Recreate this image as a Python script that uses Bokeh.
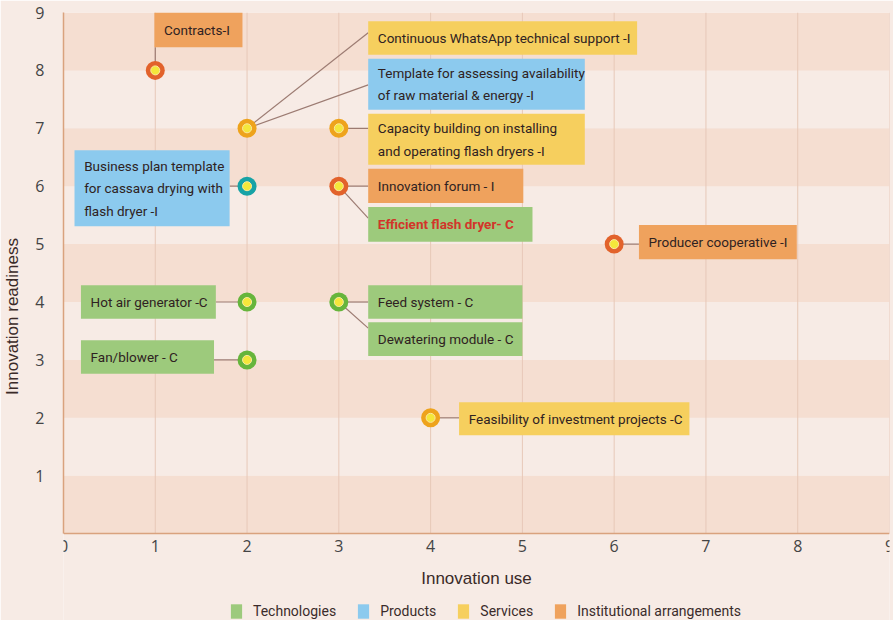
from bokeh.plotting import figure
from bokeh.models import ColumnDataSource, FixedTicker, Legend, LegendItem
from bokeh.core.properties import value
from bokeh.embed import file_html
from bokeh.resources import INLINE

# ---------------- data ----------------
innovations = [
    "Contracts-I",
    "Continuous WhatsApp technical support -I",
    "Template for assessing availability\nof raw material & energy -I",
    "Capacity building on installing\nand operating flash dryers -I",
    "Innovation forum - I",
    "Efficient flash dryer- C",
    "Business plan template\nfor cassava drying with\nflash dryer -I",
    "Producer cooperative -I",
    "Hot air generator -C",
    "Fan/blower - C",
    "Feed system - C",
    "Dewatering module - C",
    "Feasibility of investment projects -C",
]
innovation_use = [1, 2, 2, 3, 3, 3, 2, 6, 2, 2, 3, 3, 4]
innovation_readiness = [8, 7, 7, 7, 6, 6, 6, 5, 4, 3, 4, 4, 2]
category = [
    "Institutional arrangements", "Services", "Products", "Services",
    "Institutional arrangements", "Technologies", "Products",
    "Institutional arrangements", "Technologies", "Technologies",
    "Technologies", "Technologies", "Services",
]
categories = ["Technologies", "Products", "Services", "Institutional arrangements"]
x_ticks = [0, 1, 2, 3, 4, 5, 6, 7, 8, 9]
y_ticks = [1, 2, 3, 4, 5, 6, 7, 8, 9]

# ---------------- styles / layout ----------------
box_colors = {"Technologies": "#9dca7c", "Products": "#8ccaee",
              "Services": "#f6cf5e", "Institutional arrangements": "#efa25d"}
ring_colors = {"Technologies": "#66b53c", "Products": "#17a3a6",
               "Services": "#eea31c", "Institutional arrangements": "#e2622b"}
# label box geometry (data units): left, right, bottom, top, anchor x, anchor y
box_left = [0.99, 3.32, 3.32, 3.32, 3.32, 3.32, 0.12, 6.27, 0.19, 0.19, 3.32, 3.32, 4.31]
box_right = [1.95, 6.25, 5.68, 5.68, 5.01, 5.11, 1.81, 7.99, 1.66, 1.64, 5.00, 5.00, 6.82]
box_bottom = [8.40, 8.27, 7.32, 6.37, 5.71, 5.04, 5.31, 4.74, 3.71, 2.76, 3.71, 3.07, 1.70]
box_top = [9.00, 8.85, 8.20, 7.25, 6.30, 5.64, 6.62, 5.33, 4.29, 3.34, 4.29, 3.65, 2.27]
anchor_x = [1.00, 3.32, 3.32, 3.32, 3.32, 3.32, 1.81, 6.27, 1.66, 1.64, 3.32, 3.32, 4.31]
anchor_y = [8.40, 8.65, 7.75, 7.00, 6.00, 5.45, 6.00, 5.00, 4.00, 3.00, 4.00, 3.55, 2.00]
text_colors = ["#2f2222"] * 13
text_styles = ["normal"] * 13
text_colors[5] = "#d2352a"
text_styles[5] = "bold"

FONT_N = "Roboto"
band_dark = "#f5ded1"
band_light = "#f7ebe5"
page_bg = "#f7ebe5"

# the frame extends below y=0 so the axis title and legend sit inside the canvas
p = figure(frame_width=826, frame_height=608, x_range=(0, 9), y_range=(-1.5, 9),
           output_backend="svg", toolbar_location=None,
           min_border_left=62, min_border_right=5, min_border_top=12, min_border_bottom=0,
           background_fill_color=page_bg, border_fill_color=page_bg,
           outline_line_color=None)

# background bands
p.quad(left=0, right=9, bottom=[t - 1 for t in y_ticks], top=y_ticks,
       fill_color=[band_dark if t % 2 == 1 else band_light for t in y_ticks],
       line_color=None)

# vertical grid lines (only over the plotting area 0..9)
p.xgrid.grid_line_color = None
p.ygrid.grid_line_color = None
p.segment(x0=x_ticks, y0=0, x1=x_ticks, y1=9, line_color="#e7c8b8", line_width=1)

# leader lines
p.segment(x0=innovation_use, y0=innovation_readiness, x1=anchor_x, y1=anchor_y,
          line_color="#9c7b72", line_width=1.2)

# label boxes, per category
box_renderers = {}
for c in categories:
    idx = [i for i, k in enumerate(category) if k == c]
    src = ColumnDataSource(dict(
        left=[box_left[i] for i in idx], right=[box_right[i] for i in idx],
        bottom=[box_bottom[i] for i in idx], top=[box_top[i] for i in idx]))
    box_renderers[c] = p.quad(left="left", right="right", bottom="bottom", top="top",
                              source=src, fill_color=box_colors[c], line_color=None)

# label texts
tsrc = ColumnDataSource(dict(
    x=[l + 0.105 for l in box_left],
    y=[(b + t) / 2 for b, t in zip(box_bottom, box_top)],
    text=innovations, color=text_colors, style=text_styles))
p.text(x="x", y="y", text="text", source=tsrc, text_color="color",
       text_font_style="style", text_font=value(FONT_N), text_font_size="13.5px",
       text_align="left", text_baseline="middle", text_line_height=1.4)

# points (unique positions, coloured by first category at that position)
seen = {}
for u, r, c in zip(innovation_use, innovation_readiness, category):
    if (u, r) not in seen:
        seen[(u, r)] = c
pu = [k[0] for k in seen]
pr = [k[1] for k in seen]
pc = [ring_colors[v] for v in seen.values()]
p.scatter(pu, pr, size=19, fill_color=pc, line_color=None)
p.scatter(pu, pr, size=9, fill_color="#f4e73a", line_color="#fbe9a0", line_width=1)

# axes
p.xaxis.ticker = FixedTicker(ticks=x_ticks)
p.yaxis.ticker = FixedTicker(ticks=y_ticks)
for ax in (p.xaxis, p.yaxis):
    ax.axis_line_color = "#d9a27e"
    ax.axis_line_width = 1.5
    ax.major_tick_line_color = None
    ax.minor_tick_line_color = None
    ax.major_label_text_font = "Open Sans"
    ax.major_label_text_font_size = "16px"
    ax.major_label_text_color = "#444444"
    ax.axis_label_text_font = "Liberation Sans"
    ax.axis_label_text_font_size = "17px"
    ax.axis_label_text_font_style = "normal"
    ax.axis_label_text_color = "#3a2a28"
p.xaxis.fixed_location = 0
p.yaxis.bounds = (0, 9)
p.xaxis.axis_label = "Innovation use"
p.yaxis.axis_label = "Innovation readiness"
p.xaxis.major_label_standoff = 0
p.xaxis.axis_label_standoff = 14
p.yaxis.major_label_standoff = 13
p.yaxis.axis_label_standoff = 10

legend = Legend(items=[LegendItem(label=c, renderers=[box_renderers[c]]) for c in categories],
                orientation="horizontal", location=(166, 0),
                background_fill_alpha=0, border_line_alpha=0,
                label_text_font=FONT_N, label_text_font_size="14px",
                label_text_color="#3b2b2b", glyph_width=14, glyph_height=18,
                spacing=20, label_standoff=10, padding=0, margin=0)
p.add_layout(legend)

open("out.html", "w").write(file_html(p, INLINE))
